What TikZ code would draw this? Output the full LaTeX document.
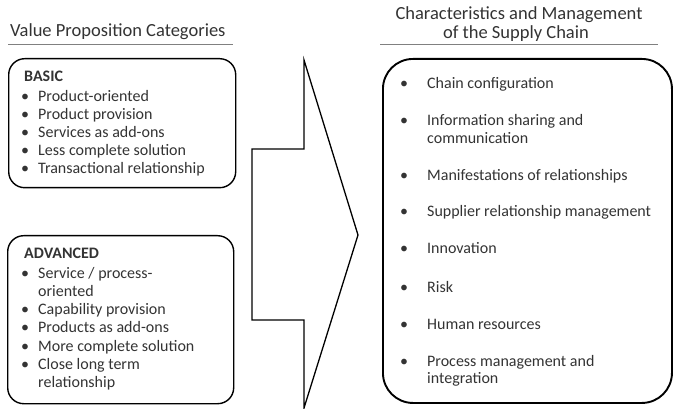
\documentclass[tikz,border=0pt]{standalone}
\usepackage{fontspec}
\setmainfont{Carlito}
\usetikzlibrary{positioning}

\newcommand{\bul}[1]{\llap{\textbullet\hspace{#1}}}

\begin{document}
\begin{tikzpicture}[x=1pt,y=-1pt,
  catbox/.style={draw,line width=1.4pt,rounded corners=16pt,anchor=north west,inner sep=0pt},
  chainbox/.style={draw,line width=1.9pt,rounded corners=30pt,anchor=north west,inner sep=0pt},
  headtext/.style={font=\fontsize{18.5}{20}\selectfont,text=black!80,anchor=base,inner sep=0pt},
  itemtext/.style={font=\fontsize{16}{18}\selectfont,text=black!80,anchor=base west,inner sep=0pt},
  rule/.style={gray,line width=0.8pt}]
\useasboundingbox (0,0) rectangle (673,409);
% headings
\node[headtext,anchor=base west] (valhead) at (10,37) {Value Proposition Categories};
\node[headtext] (chainhead) at (519,20) {Characteristics and Management};
\node[headtext] (chainheadb) at (516,39) {of the Supply Chain};
\draw[rule] (8,44) -- (233,44);
\draw[rule] (380,44) -- (658,44);
% value proposition boxes
\node[catbox,minimum width=227pt,minimum height=129pt] (basic) at (8,58) {};
\node[catbox,minimum width=226pt,minimum height=168pt] (advanced) at (7,235) {};
\node[itemtext,font=\fontsize{16}{18}\selectfont\bfseries] (basichead) at (24,82) {BASIC};
\foreach \n/\yy/\t in {1/101.5/Product-oriented,2/119.5/Product provision,
    3/137.5/Services as add-ons,4/155.5/Less complete solution,5/173.5/Transactional relationship}
  \node[itemtext] (basic\n) at (38,\yy) {\bul{9pt}\t};
\node[itemtext,font=\fontsize{16}{18}\selectfont\bfseries] (advhead) at (24,259) {ADVANCED};
\foreach \n/\yy/\t in {1/279/{\bul{9pt}Service / process-},2/297/oriented,
    3/315/{\bul{9pt}Capability provision},4/333/{\bul{9pt}Products as add-ons},
    5/351/{\bul{9pt}More complete solution},6/369/{\bul{9pt}Close long term},7/387/relationship}
  \node[itemtext] (adv\n) at (38,\yy) {\t};
% big arrow
\draw[line width=1.3pt,line join=miter] (252,149) -- (304,149) -- (304,60) -- (358,235)
  -- (304,408) -- (304,320) -- (252,320) -- cycle;
% supply chain box
\node[chainbox,minimum width=289pt,minimum height=344pt] (chain) at (382,58) {};
\foreach \n/\yy/\t in {1/89/{\bul{19pt}Chain configuration},2/126/{\bul{19pt}Information sharing and},
    3/144/communication,4/181/{\bul{19pt}Manifestations of relationships},
    5/217/{\bul{19pt}Supplier relationship management},6/254/{\bul{19pt}Innovation},
    7/292/{\bul{19pt}Risk},8/329/{\bul{19pt}Human resources},
    9/366/{\bul{19pt}Process management and},10/383/integration}
  \node[itemtext] (chain\n) at (427,\yy) {\t};
\end{tikzpicture}
\end{document}
